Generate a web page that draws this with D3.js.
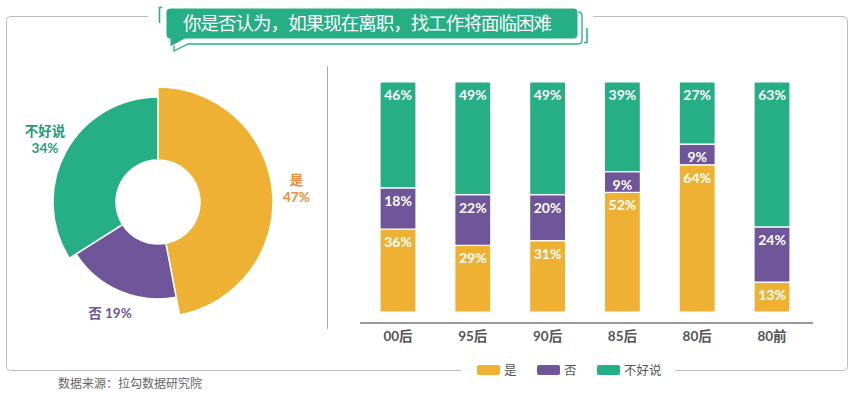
<!DOCTYPE html>
<html>
<head>
<meta charset="utf-8">
<script src="https://cdn.jsdelivr.net/npm/d3@7"></script>
<style>
  html, body { margin: 0; padding: 0; background: #fff; }
  svg { display: block; }
  text { font-family: "Lato", "Noto Sans CJK SC", sans-serif; }
</style>
</head>
<body>
<svg id="chart" width="856" height="394"></svg>
<script>
// data
const answers = ['是', '否', '不好说'];
const overallPct = [47, 19, 34];

const cohorts = ['00后', '95后', '90后', '85后', '80后', '80前'];
const yesPct = [36, 29, 31, 52, 64, 13];
const noPct = [18, 22, 20, 9, 9, 24];
const unsurePct = [46, 49, 49, 39, 27, 63];

const titleText = '你是否认为，如果现在离职，找工作将面临困难';
const sourceText = '数据来源：拉勾数据研究院';

// styles
const fillOf = { '是': '#efb134', '否': '#6f5599', '不好说': '#26ae85' };
const labelColorOf = { '是': '#ef8a3b', '否': '#6f5599', '不好说': '#1f9e76' };
const outerOf = { '是': 115, '否': 97, '不好说': 105 };
const GREEN = '#26ae85';
const FRAME = '#bdbdbd';

const svg = d3.select('#chart');

// frame, with gaps for title and legend
svg.append('rect')
  .attr('x', 6.5).attr('y', 16.5)
  .attr('width', 841).attr('height', 354)
  .attr('rx', 4)
  .attr('fill', 'none')
  .attr('stroke', FRAME);
svg.append('rect').attr('x', 148).attr('y', 8).attr('width', 445).attr('height', 20).attr('fill', '#fff');
svg.append('rect').attr('x', 461).attr('y', 362).attr('width', 214).attr('height', 16).attr('fill', '#fff');

// title badge
const title = svg.append('g').attr('class', 'title');
title.append('path') // echo outline
  .attr('d', 'M173,12 H578 Q582,12 582,16 V40 Q582,44 578,44 H188 L174,51 V44 Q170,44 170,40 V16 Q170,12 173,12 Z')
  .attr('fill', '#fff')
  .attr('stroke', GREEN)
  .attr('stroke-width', 1.3);
title.append('path')
  .attr('d', 'M170,8 H574 Q578,8 578,12 V35 Q578,39 574,39 H185 L170,47 V39 Q166,39 166,35 V12 Q166,8 170,8 Z')
  .attr('fill', GREEN)
  .attr('stroke', '#fff')
  .attr('stroke-width', 1);
title.append('path')
  .attr('d', 'M162,7.5 H159.5 V23')
  .attr('fill', 'none').attr('stroke', GREEN).attr('stroke-width', 1.5);
title.append('path')
  .attr('d', 'M587,28 V42.5 H584')
  .attr('fill', 'none').attr('stroke', GREEN).attr('stroke-width', 1.5);
title.append('text')
  .attr('x', 183).attr('y', 30)
  .attr('textLength', 369)
  .attr('lengthAdjust', 'spacing')
  .attr('fill', '#fff')
  .style('font-family', '"Noto Sans CJK SC", sans-serif')
  .style('font-size', '18.5px')
  .style('font-weight', 400)
  .text(titleText);

// donut
const cx = 158, cy = 202;
const pieData = d3.pie().sort(null).value(d => d.pct)(
  answers.map((a, i) => ({ answer: a, pct: overallPct[i] }))
);
const arc = d3.arc()
  .innerRadius(42)
  .outerRadius(d => outerOf[d.data.answer]);

const donut = svg.append('g').attr('transform', `translate(${cx},${cy})`);
donut.selectAll('path')
  .data(pieData)
  .enter()
  .append('path')
  .attr('d', arc)
  .attr('fill', d => fillOf[d.data.answer])
  .attr('stroke', '#fff')
  .attr('stroke-width', 1.5);

const pieLabels = donut.selectAll('g.lbl')
  .data(pieData)
  .enter()
  .append('g')
  .attr('class', 'lbl')
  .attr('transform', (d) => {
    const a = (d.startAngle + d.endAngle) / 2;
    const r = outerOf[d.data.answer] + 24;
    return `translate(${r * Math.sin(a)},${-r * Math.cos(a)})`;
  });
pieLabels.each(function (d) {
  const g = d3.select(this);
  const color = labelColorOf[d.data.answer];
  const one = d.data.answer === '否';
  const lines = one ? [`${d.data.answer} ${d.data.pct}%`] : [d.data.answer, `${d.data.pct}%`];
  lines.forEach((t, i) => {
    g.append('text')
      .attr('y', (i - (lines.length - 1) / 2) * 17 + 4.5)
      .attr('text-anchor', 'middle')
      .attr('fill', color)
      .style('font-size', '13.5px')
      .style('font-weight', 700)
      .text(t);
  });
});

// divider
svg.append('line')
  .attr('x1', 327.5).attr('x2', 327.5)
  .attr('y1', 66).attr('y2', 329)
  .attr('stroke', '#aaa');

// stacked bars
const rows = cohorts.map((c, i) => ({ cohort: c, '是': yesPct[i], '否': noPct[i], '不好说': unsurePct[i] }));
const series = d3.stack().keys(answers)(rows);

const x = d3.scalePoint().domain(cohorts).range([398, 772]);
const y = d3.scaleLinear().domain([0, 100]).range([312, 82]);
const barW = 36;

const bars = svg.append('g');
const layer = bars.selectAll('g.layer')
  .data(series)
  .enter()
  .append('g')
  .attr('class', 'layer')
  .attr('fill', d => fillOf[d.key]);

layer.selectAll('rect')
  .data(d => d.map(v => ({ key: d.key, v })))
  .enter()
  .append('rect')
  .attr('x', d => x(d.v.data.cohort) - barW / 2)
  .attr('y', d => y(d.v[1]))
  .attr('width', barW)
  .attr('height', d => y(d.v[0]) - y(d.v[1]))
  .attr('rx', 1)
  .attr('stroke', '#fff')
  .attr('stroke-width', 1.2);

layer.selectAll('text')
  .data(d => d.map(v => ({ key: d.key, v })))
  .enter()
  .append('text')
  .attr('x', d => x(d.v.data.cohort))
  .attr('y', d => y(d.v[1]) + 18)
  .attr('text-anchor', 'middle')
  .attr('fill', '#fff')
  .style('font-size', '14px')
  .style('font-weight', 700)
  .text(d => `${d.v.data[d.key]}%`);

// x axis
const xAxis = svg.append('g').attr('transform', 'translate(0,323)');
xAxis.append('line')
  .attr('x1', 360).attr('x2', 813)
  .attr('stroke', '#999')
  .attr('stroke-width', 2);
xAxis.selectAll('text')
  .data(cohorts)
  .enter()
  .append('text')
  .attr('x', d => x(d))
  .attr('y', 17.5)
  .attr('text-anchor', 'middle')
  .attr('fill', '#555')
  .style('font-size', '13.5px')
  .style('font-weight', 700)
  .text(d => d);

// legend
const legend = svg.append('g').attr('transform', 'translate(477,365)');
const item = legend.selectAll('g')
  .data(answers)
  .enter()
  .append('g')
  .attr('transform', (d, i) => `translate(${i * 60},0)`);
item.append('rect')
  .attr('width', 23).attr('height', 10)
  .attr('rx', 2)
  .attr('fill', d => fillOf[d]);
item.append('text')
  .attr('x', 27).attr('y', 9.5)
  .attr('fill', '#555')
  .style('font-size', '12.5px')
  .text(d => d);

// source note
svg.append('text')
  .attr('x', 58).attr('y', 388)
  .attr('fill', '#666')
  .style('font-size', '12px')
  .style('font-family', '"Noto Sans CJK SC", sans-serif')
  .text(sourceText);
</script>
</body>
</html>
